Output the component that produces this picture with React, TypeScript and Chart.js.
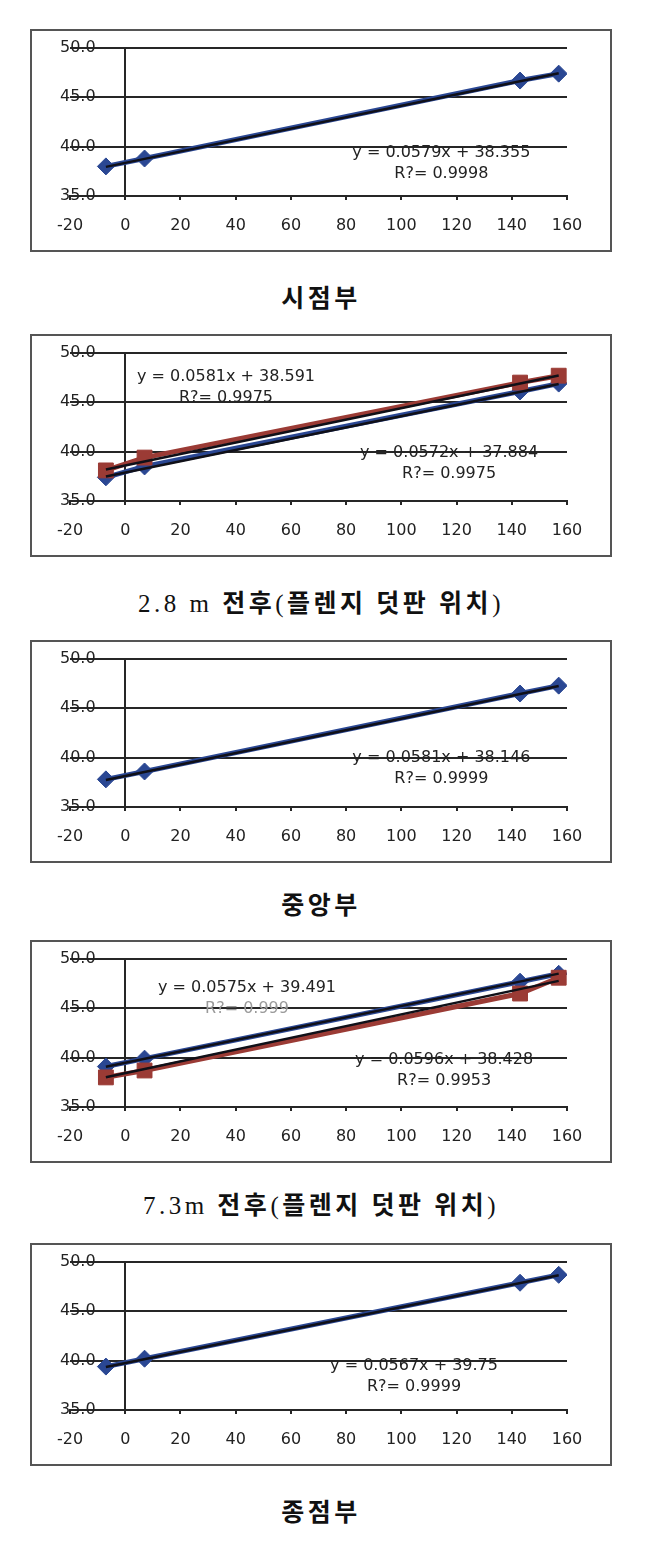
import React, { useEffect, useRef } from "react";
import { Chart, registerables } from "chart.js";

Chart.register(...registerables);

// ---------- data ----------
const STATIONS = [-7, 7, 143, 157];

const P1_BLUE = [38.0, 38.8, 46.7, 47.4];
const P2_BLUE = [37.4, 38.5, 46.1, 46.9];
const P2_RED = [38.1, 39.4, 47.0, 47.7];
const P3_BLUE = [37.8, 38.6, 46.5, 47.3];
const P4_BLUE = [39.1, 39.9, 47.7, 48.5];
const P4_RED = [38.0, 38.7, 46.5, 48.1];
const P5_BLUE = [39.4, 40.2, 47.9, 48.7];

// trendline coefficients [slope, intercept] as printed on the chart
const P1_FIT_BLUE = [0.0579, 38.355];
const P2_FIT_RED = [0.0581, 38.591];
const P2_FIT_BLUE = [0.0572, 37.884];
const P3_FIT_BLUE = [0.0581, 38.146];
const P4_FIT_BLUE = [0.0575, 39.491];
const P4_FIT_RED = [0.0596, 38.428];
const P5_FIT_BLUE = [0.0567, 39.75];

const EQ_TEXT_1 = ["y = 0.0579x + 38.355", "R?= 0.9998"];
const EQ_TEXT_2R = ["y = 0.0581x + 38.591", "R?= 0.9975"];
const EQ_TEXT_2B = ["y = 0.0572x + 37.884", "R?= 0.9975"];
const EQ_TEXT_3 = ["y = 0.0581x + 38.146", "R?= 0.9999"];
const EQ_TEXT_4B = ["y = 0.0575x + 39.491", "R?= 0.999"];
const EQ_TEXT_4R = ["y = 0.0596x + 38.428", "R?= 0.9953"];
const EQ_TEXT_5 = ["y = 0.0567x + 39.75", "R?= 0.9999"];

const CAPTIONS = [
  "시점부",
  "2.8 m 전후(플렌지 덧판 위치)",
  "중앙부",
  "7.3m 전후(플렌지 덧판 위치)",
  "종점부",
];

const X_MIN = -20;
const X_MAX = 160;
const X_STEP = 20;
const Y_MIN = 35;
const Y_MAX = 50;
const Y_STEP = 5;

// ---------- style / layout ----------
const BLUE = "#2a4793";
const RED = "#9b3b35";
const INK = "#262626";
const TEXT = "#222222";
const PANEL_LEFT = 30;
const PANEL_W = 582;
const PANEL_H = 223;
const PANEL_TOPS = [29, 334, 640, 940, 1243];
const CAPTION_Y = [299, 604, 906, 1206, 1513];

type Series = { values: number[]; fit: number[]; color: string; marker: string; radius: number };
type EqLabel = { lines: string[]; x: number; y: number; faint2?: boolean };
type PanelDef = { series: Series[]; labels: EqLabel[] };

const PANELS: PanelDef[] = [
  {
    series: [{ values: P1_BLUE, fit: P1_FIT_BLUE, color: BLUE, marker: "rectRot", radius: 8.5 }],
    labels: [{ lines: EQ_TEXT_1, x: 114.5, y: 39.4 }],
  },
  {
    series: [
      { values: P2_BLUE, fit: P2_FIT_BLUE, color: BLUE, marker: "rectRot", radius: 8.5 },
      { values: P2_RED, fit: P2_FIT_RED, color: RED, marker: "rect", radius: 10.5 },
    ],
    labels: [
      { lines: EQ_TEXT_2R, x: 36.5, y: 47.55 },
      { lines: EQ_TEXT_2B, x: 117.3, y: 39.93 },
    ],
  },
  {
    series: [{ values: P3_BLUE, fit: P3_FIT_BLUE, color: BLUE, marker: "rectRot", radius: 8.5 }],
    labels: [{ lines: EQ_TEXT_3, x: 114.5, y: 39.94 }],
  },
  {
    series: [
      { values: P4_BLUE, fit: P4_FIT_BLUE, color: BLUE, marker: "rectRot", radius: 8.5 },
      { values: P4_RED, fit: P4_FIT_RED, color: RED, marker: "rect", radius: 10.5 },
    ],
    labels: [
      { lines: EQ_TEXT_4B, x: 44.1, y: 47.1, faint2: true },
      { lines: EQ_TEXT_4R, x: 115.5, y: 39.77 },
    ],
  },
  {
    series: [{ values: P5_BLUE, fit: P5_FIT_BLUE, color: BLUE, marker: "rectRot", radius: 8.5 }],
    labels: [{ lines: EQ_TEXT_5, x: 104.6, y: 39.43 }],
  },
];

function Panel({ def, top }: { def: PanelDef; top: number }) {
  const ref = useRef<HTMLCanvasElement | null>(null);

  useEffect(() => {
    if (!ref.current) return;
    const datasets: any[] = [];
    // trendlines (drawn on top)
    def.series.forEach((s) => {
      const x0 = STATIONS[0];
      const x1 = STATIONS[STATIONS.length - 1];
      datasets.push({
        data: [
          { x: x0, y: s.fit[0] * x0 + s.fit[1] },
          { x: x1, y: s.fit[0] * x1 + s.fit[1] },
        ],
        showLine: true,
        borderColor: "#101018",
        borderWidth: 2.5,
        pointRadius: 0,
        order: 0,
      });
    });
    // data series
    def.series.forEach((s, i) => {
      datasets.push({
        data: STATIONS.map((x, k) => ({ x, y: s.values[k] })),
        showLine: true,
        borderColor: s.color,
        borderWidth: 5,
        backgroundColor: s.color,
        pointStyle: s.marker,
        pointRadius: s.radius,
        pointBorderColor: s.color,
        pointBackgroundColor: s.color,
        pointBorderWidth: 1,
        order: 10 - i,
      });
    });

    const eqPlugin = {
      id: "eqLabels",
      afterDatasetsDraw(chart: any) {
        const ctx = chart.ctx;
        const xs = chart.scales.x;
        const ys = chart.scales.y;
        ctx.save();
        ctx.font = "16px 'DejaVu Sans'";
        ctx.textAlign = "center";
        ctx.textBaseline = "middle";
        def.labels.forEach((l) => {
          const px = xs.getPixelForValue(l.x);
          const py = ys.getPixelForValue(l.y);
          ctx.fillStyle = TEXT;
          ctx.fillText(l.lines[0], px, py);
          ctx.fillStyle = l.faint2 ? "#9a9a9a" : TEXT;
          ctx.fillText(l.lines[1], px, py + 21);
        });
        ctx.restore();
      },
    };

    const chart = new Chart(ref.current, {
      type: "scatter",
      data: { datasets },
      options: {
        responsive: false,
        animation: false,
        events: [],
        layout: { padding: { left: 40, right: 45, top: 19, bottom: 0 } },
        plugins: { legend: { display: false }, tooltip: { enabled: false } },
        scales: {
          x: {
            type: "linear",
            min: X_MIN,
            max: X_MAX,
            ticks: {
              stepSize: X_STEP,
              color: TEXT,
              font: { family: "'DejaVu Sans'", size: 16 },
              padding: 16,
              maxRotation: 0,
              autoSkip: false,
            },
            grid: {
              color: (c: any) => (c.tick && c.tick.value === 0 ? INK : "rgba(0,0,0,0)"),
              lineWidth: 2,
              tickColor: INK,
              tickLength: 4,
              drawTicks: true,
            },
            border: { display: true, color: INK, width: 2 },
            afterFit: (s: any) => {
              s.height = 56;
            },
          },
          y: {
            type: "linear",
            min: Y_MIN,
            max: Y_MAX,
            ticks: {
              stepSize: Y_STEP,
              mirror: true,
              padding: -10,
              color: TEXT,
              font: { family: "'DejaVu Sans'", size: 16 },
              callback: (v: any) => Number(v).toFixed(1),
            },
            grid: { color: INK, lineWidth: 2, drawTicks: false },
            border: { display: false },
            afterFit: (s: any) => {
              s.width = 0;
            },
          },
        },
      } as any,
      plugins: [eqPlugin],
    });
    return () => chart.destroy();
  }, [def]);

  return (
    <>
      <div
        style={{
          position: "absolute",
          left: PANEL_LEFT,
          top,
          width: PANEL_W,
          height: PANEL_H,
          boxSizing: "border-box",
          border: "2px solid #555",
          background: "#fff",
        }}
      />
      <canvas
        ref={ref}
        width={PANEL_W}
        height={PANEL_H}
        style={{ position: "absolute", left: PANEL_LEFT, top, width: PANEL_W, height: PANEL_H }}
      />
    </>
  );
}

function Caption({ text, y }: { text: string; y: number }) {
  const parts = text.split(/([\uAC00-\uD7A3]+)/).filter((p) => p.length > 0);
  return (
    <div
      style={{
        position: "absolute",
        left: 0,
        width: 642,
        top: y - 17,
        height: 34,
        lineHeight: "34px",
        textAlign: "center",
        fontFamily: "'Liberation Serif', 'Noto Sans CJK KR', serif",
        fontSize: 25,
        letterSpacing: 3.5,
        color: "#111",
        whiteSpace: "pre",
      }}
    >
      {parts.map((p, i) =>
        /[\uAC00-\uD7A3]/.test(p) ? (
          <span key={i} style={{ fontWeight: 700 }}>
            {p}
          </span>
        ) : (
          <span key={i}>{p}</span>
        )
      )}
    </div>
  );
}

export default function App() {
  return (
    <div style={{ position: "absolute", left: 0, top: 0, width: 660, height: 1545, background: "#fff" }}>
      {PANELS.map((p, i) => (
        <React.Fragment key={i}>
          <Panel def={p} top={PANEL_TOPS[i]} />
          <Caption text={CAPTIONS[i]} y={CAPTION_Y[i]} />
        </React.Fragment>
      ))}
    </div>
  );
}
